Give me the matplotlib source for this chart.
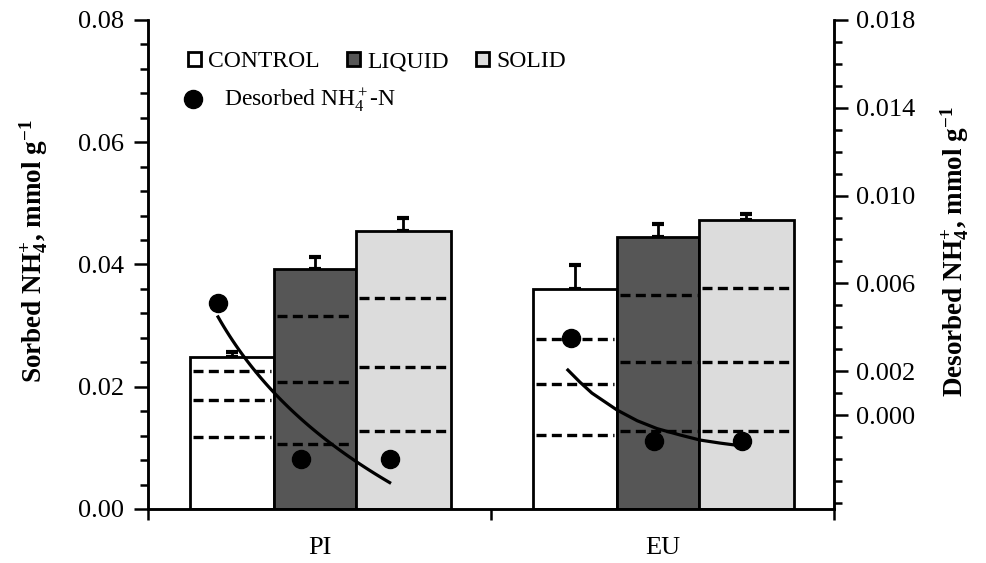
import matplotlib
matplotlib.use("Agg")
import matplotlib.pyplot as plt
import numpy as np
from matplotlib.patches import Patch
from matplotlib.lines import Line2D
from matplotlib.ticker import MultipleLocator, FixedLocator

plt.rcParams['font.family'] = ['Liberation Serif', 'DejaVu Serif']
plt.rcParams['mathtext.fontset'] = 'custom'
plt.rcParams['mathtext.rm'] = 'Liberation Serif'
plt.rcParams['mathtext.it'] = 'Liberation Serif:italic'
plt.rcParams['mathtext.bf'] = 'Liberation Serif:bold'

# data
sites = ['PI', 'EU']
treatments = ['CONTROL', 'LIQUID', 'SOLID']

sorbed_control = [0.0249, 0.0360]
sorbed_liquid = [0.0393, 0.0445]
sorbed_solid = [0.0455, 0.0473]

err_control = [0.0008, 0.0039]
err_liquid = [0.0020, 0.0021]
err_solid = [0.0021, 0.0010]

# dashed levels inside each bar (PI, EU)
levels_control = [[0.0226, 0.0178, 0.0118], [0.0278, 0.0204, 0.0121]]
levels_liquid = [[0.0316, 0.0208, 0.0106], [0.0350, 0.0240, 0.0128]]
levels_solid = [[0.0345, 0.0232, 0.0128], [0.0362, 0.0240, 0.0128]]

# desorbed NH4+-N (right axis), order CONTROL, LIQUID, SOLID
desorbed_pi = [0.0051, -0.0020, -0.0020]
desorbed_eu = [0.0035, -0.0012, -0.0012]

# EU trend curve
trend_eu_x = [0.724, 0.759, 0.794, 0.867, 0.926, 0.984, 1.051, 1.109, 1.168, 1.232]
trend_eu_y = [0.00205, 0.00150, 0.00100, 0.00023, -0.00026, -0.00062, -0.00091,
              -0.00114, -0.00128, -0.00141]

sorbed = [sorbed_control, sorbed_liquid, sorbed_solid]
errs = [err_control, err_liquid, err_solid]
levels = [levels_control, levels_liquid, levels_solid]
desorbed = [desorbed_pi, desorbed_eu]

colors = ['white', '#565656', '#dcdcdc']
widths = [0.245, 0.24, 0.275]
left0 = -0.378
dot_shift = [-0.04, -0.012]

fig = plt.figure(figsize=(9.86, 5.63), dpi=100)
ax = fig.add_axes([0.150, 0.096, 0.696, 0.8685])
ax2 = ax.twinx()

x = np.arange(len(sites))
lefts = [left0 + sum(widths[:i]) for i in range(3)]
centers = [lefts[i] + widths[i] / 2 for i in range(3)]

for i in range(3):
    xc = x + centers[i]
    ax.bar(xc, sorbed[i], widths[i], facecolor=colors[i], edgecolor='black',
           linewidth=2.0, zorder=2)
    ax.errorbar(xc, sorbed[i], yerr=[np.zeros(len(sites)), errs[i]], fmt='none',
                ecolor='black', elinewidth=2.0, capsize=4.5, capthick=3, zorder=1)
    for g in range(len(sites)):
        ax.hlines(levels[i][g], x[g] + lefts[i] + 0.008, x[g] + lefts[i] + widths[i] - 0.008,
                  colors='black', linestyles=(0, (3, 1.6)), linewidth=2.4, zorder=3)

for g in range(len(sites)):
    ax2.plot(x[g] + np.array(centers) + dot_shift[g], desorbed[g], 'o', color='black',
             markersize=13, zorder=5)

# PI: logarithmic trend line through the three desorbed points
dot_x_pi = x[0] + np.array(centers) + dot_shift[0]
b, a = np.polyfit(np.log([1, 2, 3]), desorbed_pi, 1)
xs = np.linspace(dot_x_pi[0], dot_x_pi[-1], 60)
k = 1 + 2 * (xs - dot_x_pi[0]) / (dot_x_pi[-1] - dot_x_pi[0])
ax2.plot(xs, a + b * np.log(k), '-', color='black', linewidth=2.3, zorder=4)
ax2.plot(trend_eu_x, trend_eu_y, '-', color='black', linewidth=2.3, zorder=4,
         solid_joinstyle='round')

ax.set_xlim(-0.5, 1.5)
ax.set_ylim(0, 0.08)
ax2.set_ylim(-0.00428, 0.018)

ax.set_yticks([0.00, 0.02, 0.04, 0.06, 0.08])
ax.set_yticklabels(['0.00', '0.02', '0.04', '0.06', '0.08'])
ax.yaxis.set_minor_locator(MultipleLocator(0.004))

r_ticks = [0.000, 0.002, 0.006, 0.010, 0.014, 0.018]
ax2.set_yticks(r_ticks)
ax2.set_yticklabels([f"{t:.3f}" for t in r_ticks])
ax2.yaxis.set_minor_locator(FixedLocator(np.arange(-0.004, 0.0181, 0.001)))

ax.set_xticks([-0.5, 0.5, 1.5])
ax.set_xticklabels(['', '', ''])
ax.set_xticks(x, labels=sites, minor=True)
ax.tick_params(axis='x', which='minor', length=0, pad=20, labelsize=19)
ax.tick_params(axis='x', which='major', length=8, width=1.8, direction='out')

ax.tick_params(axis='y', which='major', length=10, width=1.8, labelsize=19, pad=7)
ax.tick_params(axis='y', which='minor', length=6, width=1.8)
ax2.tick_params(axis='y', which='major', length=10, width=1.8, labelsize=19, pad=6)
ax2.tick_params(axis='y', which='minor', length=6, width=1.8)

for a_ in (ax, ax2):
    a_.spines['top'].set_visible(False)
    for s in ('left', 'right', 'bottom'):
        a_.spines[s].set_linewidth(1.8)

ax.set_ylabel(r'Sorbed NH$_\mathbf{4}^\mathbf{+}$, mmol g$^\mathbf{-1}$',
              fontsize=19.5, fontweight='bold')
ax.yaxis.set_label_coords(-0.143, 0.527)
ax2.set_ylabel(r'Desorbed NH$_\mathbf{4}^\mathbf{+}$, mmol g$^\mathbf{-1}$',
               fontsize=19.5, fontweight='bold', rotation=90)
ax2.yaxis.set_label_coords(1.151, 0.527)

handles = [Patch(facecolor=c, edgecolor='black', linewidth=2.0, label=t)
           for c, t in zip(colors, treatments)]
leg1 = ax2.legend(handles=handles, loc='upper left', bbox_to_anchor=(0.045, 0.955),
                  ncol=3, frameon=False, fontsize=17, handlelength=0.55, handleheight=0.55,
                  handletextpad=0.3, columnspacing=1.15, borderaxespad=0)
ax2.add_artist(leg1)
dot_handle = Line2D([], [], marker='o', linestyle='none', color='black', markersize=13,
                    label=r'Desorbed NH$_4^+$-N')
ax2.legend(handles=[dot_handle], loc='upper left', bbox_to_anchor=(0.035, 0.882),
           frameon=False, fontsize=17, handlelength=1.0, handletextpad=0.8, borderaxespad=0)

fig.savefig('out.png', dpi=100)
